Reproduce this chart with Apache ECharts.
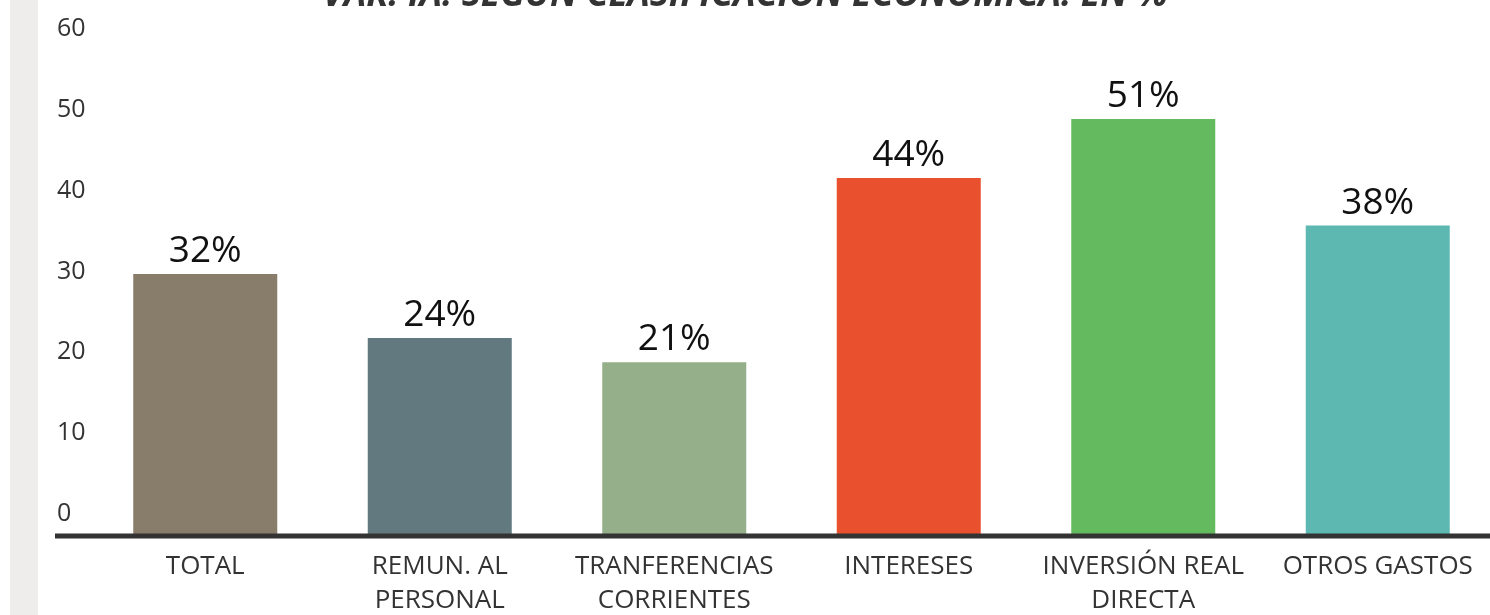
<!DOCTYPE html>
<html>
<head>
<meta charset="utf-8">
<script src="https://cdn.jsdelivr.net/npm/echarts@6/dist/echarts.min.js"></script>
<style>
  html, body { margin: 0; padding: 0; background: #fff; }
  #chart { width: 1490px; height: 615px; }
</style>
</head>
<body>
<div id="chart"></div>
<script>
const categories = ['TOTAL', 'REMUN. AL\nPERSONAL', 'TRANFERENCIAS\nCORRIENTES', 'INTERESES', 'INVERSIÓN REAL\nDIRECTA', 'OTROS GASTOS']
const values = [32.4, 24.5, 21.5, 44.3, 51.6, 38.4]
const barLabels = ['32%', '24%', '21%', '44%', '51%', '38%']
const colors = ['#887c6b', '#627a7f', '#94af8a', '#e8502e', '#63ba5f', '#5eb8b2']
const yTicks = { min: 0, max: 60, interval: 10 }

const chart = echarts.init(document.getElementById('chart'))
const font = '"Open Sans", "Noto Sans", sans-serif'

const option = {
  animation: false,
  backgroundColor: '#fff',
  title: {
    text: 'VAR. IA. SEGÚN CLASIFICACIÓN ECONÓMICA. EN %',
    left: 'center',
    top: -27,
    textStyle: { fontFamily: font, fontSize: 36, fontWeight: 'bold', fontStyle: 'italic', color: '#333' }
  },
  grid: { left: 88, right: -5, top: 51, bottom: 79, outerBoundsMode: 'none' },
  xAxis: {
    type: 'category',
    data: categories,
    axisLine: { show: false },
    axisTick: { show: false },
    axisLabel: { color: '#333', fontFamily: font, fontSize: 26, lineHeight: 34, margin: 14, interval: 0 }
  },
  yAxis: {
    type: 'value',
    ...yTicks,
    splitLine: { show: false },
    axisLine: { show: false },
    axisTick: { show: false },
    axisLabel: {
      color: '#333', fontFamily: font, fontSize: 25,
      align: 'left', verticalAlign: 'bottom', lineHeight: 44, margin: 31
    }
  },
  series: [{
    type: 'bar',
    data: values.map((v, i) => ({ value: v, itemStyle: { color: colors[i] } })),
    barWidth: 144,
    label: {
      show: true,
      position: 'top',
      distance: 4,
      formatter: p => barLabels[p.dataIndex],
      color: '#111',
      fontFamily: font,
      fontSize: 37
    }
  }]
}

chart.setOption(option)

// side strip and the baseline, placed from the value scale
const y0 = chart.convertToPixel({ yAxisIndex: 0 }, 0)
chart.setOption({
  graphic: [
    { type: 'rect', shape: { x: 10, y: 0, width: 28, height: 615 }, style: { fill: '#eeedeb' }, z: -1 },
    { type: 'line', shape: { x1: 55, y1: y0, x2: 1490, y2: y0 }, style: { stroke: '#333', lineWidth: 5 }, z: 10 }
  ]
})
</script>
</body>
</html>
